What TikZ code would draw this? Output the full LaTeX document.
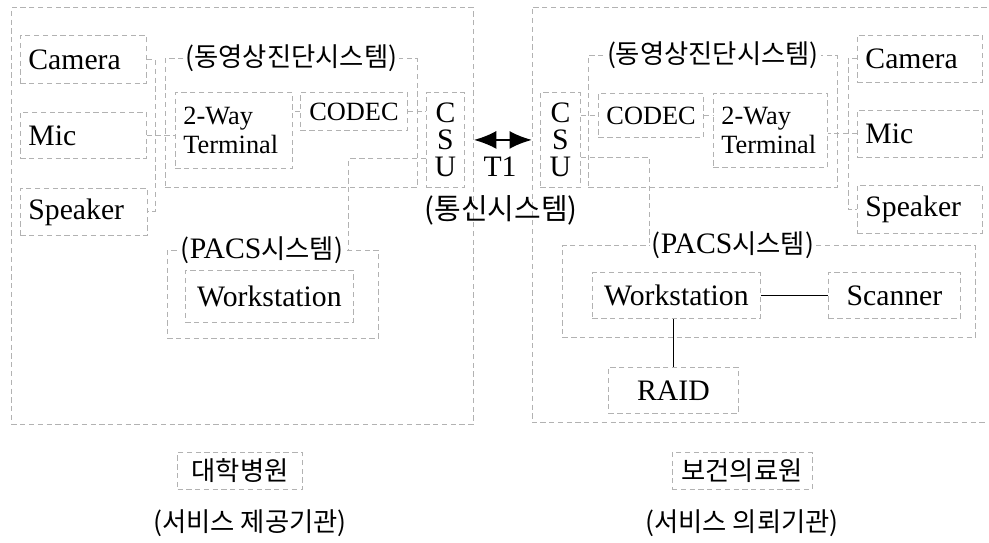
\documentclass[tikz,border=0pt]{standalone}
\usepackage{fontspec}
\setmainfont{Liberation Serif}
\newfontfamily\krfont{Noto Sans CJK KR}
\usetikzlibrary{calc,positioning,arrows.meta}
\newcommand{\ko}[1]{{\krfont\fontsize{15}{17}\selectfont #1}}

\tikzset{
	frame/.style={draw=gray!60, densely dashed, line width=0.5pt},
	link/.style={draw=gray!60, densely dashed, line width=0.5pt},
	wire/.style={draw=black, line width=0.8pt},
	unit/.style={frame, anchor=north west, inner xsep=0.16cm, inner ysep=0pt, align=left, font=\fontsize{16.9}{18}\selectfont},
	cunit/.style={unit, align=center},
	narrow/.style={font=\fontsize{15}{17}\selectfont},
	group/.style={frame, anchor=north west, inner sep=0pt},
	tag/.style={fill=white, inner sep=1pt, font=\fontsize{16.9}{18}\selectfont},
}

\begin{document}
\begin{tikzpicture}[x=0.02cm, y=-0.02cm]
	\useasboundingbox (0,0) rectangle (989,543);
	% service provider side
	\node (siteL) [group, minimum width=9.24cm, minimum height=8.34cm] at (11,7) {};
	\node (camL) [unit, text width=2.2cm, minimum height=0.96cm] at (20,35) {Camera};
	\node (micL) [unit, text width=2.2cm, minimum height=0.92cm] at (20,112) {Mic};
	\node (spkL) [unit, text width=2.22cm, minimum height=0.94cm] at (20,188) {Speaker};
	\node (vidL) [group, minimum width=5.04cm, minimum height=2.58cm] at (165,58) {};
	\node (vidLtag) [tag] at (vidL.north) {\ko{(동영상진단시스템)}};
	\node (twL) [unit, narrow, text width=2.02cm, minimum height=1.52cm] at (175,92) {2-Way\\Terminal};
	\node (codecL) [cunit, narrow, text width=1.82cm, minimum height=0.76cm] at (300,92) {CODEC};
	\node (csuL) [cunit, text width=0.44cm, minimum height=1.9cm, font=\fontsize{16.9}{15.4}\selectfont] at (426,92) {C\\S\\U};
	\node (pacsL) [group, minimum width=4.22cm, minimum height=1.76cm] at (167,250) {};
	\node (pacsLtag) [tag] at ($(pacsL.north)+(-11,0)$) {\ko{(}PACS\ko{시스템)}};
	\node (wsL) [cunit, text width=3.04cm, minimum height=1.04cm] at (185,270) {Workstation};

	% service requester side
	\node (siteR) [inner sep=0pt, anchor=north west, minimum width=9.08cm, minimum height=8.3cm] at (532,7) {};
	\draw[frame] (siteR.north east) -- (siteR.north west) -- (siteR.south west) -- (siteR.south east);
	\node (csuR) [cunit, text width=0.48cm, minimum height=1.9cm, font=\fontsize{16.9}{15.4}\selectfont] at (540,92) {C\\S\\U};
	\node (vidR) [group, minimum width=4.98cm, minimum height=2.64cm] at (588,55) {};
	\node (vidRtag) [tag] at (vidR.north) {\ko{(동영상진단시스템)}};
	\node (codecR) [cunit, narrow, text width=1.78cm, minimum height=0.88cm] at (598,93) {CODEC};
	\node (twR) [unit, narrow, text width=1.96cm, minimum height=1.48cm] at (713,93) {2-Way\\Terminal};
	\node (camR) [unit, text width=2.18cm, minimum height=0.94cm] at (857,35) {Camera};
	\node (micR) [unit, text width=2.18cm, minimum height=0.94cm] at (857,110) {Mic};
	\node (spkR) [unit, text width=2.18cm, minimum height=0.96cm] at (857,185) {Speaker};
	\node (pacsR) [group, minimum width=8.26cm, minimum height=1.84cm] at (562,245) {};
	\node (pacsRtag) [tag] at ($(pacsR.north west)+(171,0)$) {\ko{(}PACS\ko{시스템)}};
	\node (wsR) [cunit, text width=3.04cm, minimum height=0.92cm] at (592,272) {Workstation};
	\node (scan) [cunit, text width=2.32cm, minimum height=0.92cm] at (828,272) {Scanner};
	\node (raid) [cunit, text width=2.28cm, minimum height=0.92cm] at (608,367) {RAID};

	% link between sites
	\node (t1) [font=\fontsize{16.9}{18}\selectfont] at (500,167) {T1};
	\node (comm) at (501,210) {{\krfont\fontsize{16.5}{18}\selectfont (통신시스템)}};
	\draw[{Latex[length=0.45cm,width=0.36cm]}-{Latex[length=0.45cm,width=0.36cm]}, line width=1.3pt] (siteL.east |- csuL) -- (siteR.west |- csuL);

	% names of the sites
	\node (hospL) [frame, minimum width=2.5cm, minimum height=0.74cm] at (240,471) {\ko{대학병원}};
	\node (roleL) at (250,523) {\ko{(서비스 제공기관)}};
	\node (hospR) [frame, minimum width=2.8cm, minimum height=0.74cm] at (742,471) {\ko{보건의료원}};
	\node (roleR) at (742,523) {\ko{(서비스 의뢰기관)}};

	% connectors
	\coordinate (busL) at (155,0);
	\coordinate (busR) at (848,0);
	\draw[link] (camL.east) -- (camL.east -| busL) -- (spkL.east -| busL) -- (spkL.east);
	\draw[link] (micL.east) -- (micL.east -| twL.west);
	\draw[link] (codecL.west) -- (codecL.west -| twL.east);
	\draw[link] (codecL.east) -- (codecL.east -| csuL.west);
	\draw[link] ($(csuL.south west)+(0,-29)$) -| ($(pacsL.north east)+(-30,0)$);
	\draw[link] (csuR.east |- codecR) -- (codecR.west);
	\draw[link] (codecR.east) -- (codecR.east -| twR.west);
	\draw[link] (micR.west) -- (micR.west -| twR.east);
	\draw[link] (camR.west) -- (camR.west -| busR) -- (spkR.west -| busR) -- (spkR.west);
	\draw[link] ($(csuR.south east)+(0,-30)$) -| (pacsRtag.west);
	\draw[wire] (wsR) -- (scan);
	\draw[wire] (raid.north) -- (raid.north |- wsR.south);
\end{tikzpicture}
\end{document}
